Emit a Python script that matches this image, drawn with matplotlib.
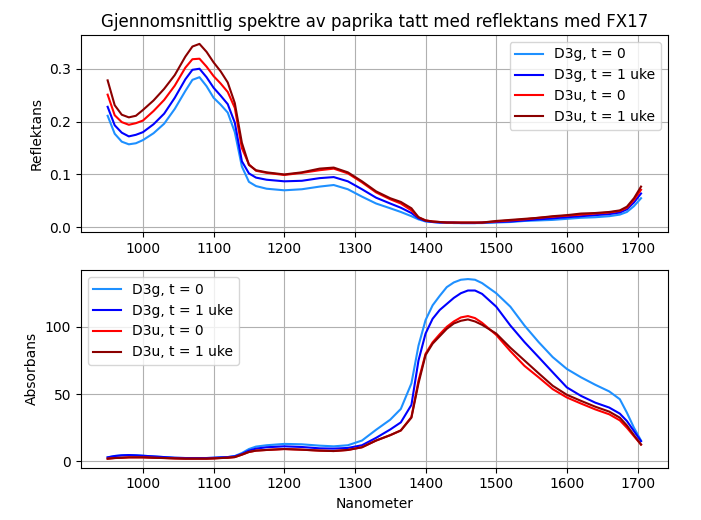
import numpy as np
import matplotlib
matplotlib.use('Agg')
import matplotlib.pyplot as plt

# wavelength grid (nm)
nm = [950, 960, 970, 980, 990, 1000, 1015, 1030, 1045, 1060, 1070, 1080, 1090,
      1100, 1110, 1120, 1130, 1140, 1150, 1160, 1175, 1200, 1225, 1250, 1270,
      1290, 1310, 1330, 1350, 1365, 1380, 1390, 1400, 1410, 1420, 1430, 1440,
      1450, 1460, 1470, 1480, 1500, 1520, 1540, 1560, 1580, 1600, 1620, 1640,
      1660, 1675, 1685, 1695, 1705]

labels = ['D3g, t = 0', 'D3g, t = 1 uke', 'D3u, t = 0', 'D3u, t = 1 uke']
colors = ['dodgerblue', 'blue', 'red', 'darkred']

# mean reflectance
refl_g0 = [0.211, 0.177, 0.162, 0.157, 0.159, 0.165, 0.178, 0.196, 0.224, 0.258,
           0.279, 0.284, 0.267, 0.245, 0.232, 0.217, 0.180, 0.115, 0.086, 0.078,
           0.073, 0.070, 0.072, 0.077, 0.080, 0.072, 0.058, 0.045, 0.036, 0.029,
           0.021, 0.015, 0.011, 0.010, 0.009, 0.009, 0.008, 0.008, 0.008, 0.008,
           0.008, 0.009, 0.010, 0.012, 0.013, 0.014, 0.016, 0.018, 0.019, 0.021,
           0.024, 0.029, 0.040, 0.055]
refl_g1 = [0.228, 0.193, 0.179, 0.172, 0.175, 0.180, 0.195, 0.215, 0.245, 0.280,
           0.298, 0.300, 0.284, 0.264, 0.249, 0.233, 0.198, 0.125, 0.102, 0.094,
           0.090, 0.087, 0.088, 0.093, 0.095, 0.087, 0.072, 0.056, 0.045, 0.037,
           0.027, 0.017, 0.012, 0.010, 0.009, 0.009, 0.009, 0.008, 0.008, 0.008,
           0.009, 0.010, 0.011, 0.013, 0.015, 0.017, 0.019, 0.021, 0.023, 0.025,
           0.028, 0.034, 0.047, 0.064]
refl_u0 = [0.251, 0.212, 0.199, 0.194, 0.197, 0.202, 0.220, 0.241, 0.268, 0.302,
           0.318, 0.319, 0.304, 0.286, 0.272, 0.256, 0.226, 0.150, 0.119, 0.107,
           0.103, 0.099, 0.103, 0.108, 0.111, 0.102, 0.085, 0.066, 0.053, 0.045,
           0.032, 0.019, 0.013, 0.011, 0.010, 0.009, 0.009, 0.009, 0.009, 0.009,
           0.009, 0.011, 0.013, 0.015, 0.018, 0.020, 0.022, 0.024, 0.026, 0.028,
           0.031, 0.037, 0.052, 0.071]
refl_u1 = [0.278, 0.231, 0.213, 0.208, 0.211, 0.222, 0.240, 0.262, 0.288, 0.323,
           0.342, 0.347, 0.332, 0.312, 0.295, 0.274, 0.235, 0.160, 0.118, 0.108,
           0.104, 0.100, 0.104, 0.111, 0.113, 0.104, 0.087, 0.068, 0.055, 0.048,
           0.036, 0.019, 0.013, 0.011, 0.010, 0.009, 0.009, 0.009, 0.009, 0.009,
           0.009, 0.012, 0.014, 0.016, 0.018, 0.021, 0.023, 0.026, 0.027, 0.029,
           0.032, 0.039, 0.055, 0.077]

# mean absorbance
abs_g0 = [3.0, 4.0, 4.5, 4.7, 4.5, 4.2, 3.7, 3.2, 2.7, 2.5, 2.5, 2.5, 2.5, 2.7,
          3.0, 3.2, 4.0, 6.2, 9.2, 11.0, 12.0, 13.0, 12.7, 11.7, 11.2, 12.0, 15.5,
          23.5, 31.0, 39.0, 58.0, 86.0, 105.0, 116.0, 123.0, 129.5, 133.0, 135.0,
          135.5, 135.0, 132.5, 125.0, 115.0, 101.0, 88.7, 77.5, 68.7, 62.5, 57.0,
          52.0, 46.2, 36.2, 25.0, 15.5]
abs_g1 = [3.0, 4.0, 4.5, 4.7, 4.5, 4.2, 3.7, 3.2, 2.7, 2.5, 2.5, 2.5, 2.5, 2.7,
          3.0, 3.2, 3.8, 5.5, 8.0, 9.5, 10.5, 11.2, 10.7, 9.7, 9.5, 10.0, 12.0,
          17.5, 23.7, 29.0, 42.0, 75.0, 95.0, 106.0, 112.5, 117.0, 121.5, 125.0,
          127.0, 127.0, 124.5, 115.0, 101.0, 88.7, 77.5, 66.2, 55.0, 48.7, 43.7,
          40.0, 35.5, 30.0, 22.5, 15.0]
abs_u0 = [2.0, 2.5, 2.7, 3.0, 3.0, 3.0, 2.7, 2.5, 2.2, 2.0, 2.0, 2.0, 2.0, 2.2,
          2.5, 2.7, 3.2, 5.0, 7.0, 8.0, 8.5, 9.2, 8.7, 8.0, 7.7, 8.5, 10.5, 15.5,
          19.5, 23.0, 33.0, 60.0, 80.0, 88.5, 94.5, 100.0, 104.0, 107.0, 108.0,
          106.5, 103.0, 94.0, 82.0, 71.0, 62.5, 53.7, 47.5, 43.0, 38.7, 35.0, 30.5,
          25.0, 18.7, 12.5]
abs_u1 = [2.0, 2.5, 2.7, 3.0, 3.0, 3.0, 2.7, 2.5, 2.2, 2.0, 2.0, 2.0, 2.0, 2.2,
          2.5, 2.7, 3.2, 5.0, 7.0, 8.0, 8.5, 9.2, 8.7, 8.0, 7.7, 8.5, 10.5, 15.5,
          19.5, 23.0, 32.5, 58.0, 79.0, 87.5, 93.0, 98.5, 102.5, 104.5, 105.5,
          104.0, 101.5, 95.0, 84.5, 75.0, 65.5, 56.2, 49.5, 45.0, 40.7, 37.0, 32.5,
          26.7, 19.5, 12.5]

refl = [refl_g0, refl_g1, refl_u0, refl_u1]
absb = [abs_g0, abs_g1, abs_u0, abs_u1]

fig = plt.figure(figsize=(7.01, 5.2), dpi=100)
ax1 = fig.add_axes([0.1155, 0.5538, 0.837, 0.379])
ax2 = fig.add_axes([0.1155, 0.1006, 0.837, 0.380])

for y, c, l in zip(refl, colors, labels):
    ax1.plot(nm, y, color=c, label=l)
ax1.set_title('Gjennomsnittlig spektre av paprika tatt med reflektans med FX17')
ax1.set_ylabel('Reflektans')
ax1.set_yticks([0.0, 0.1, 0.2, 0.3])
ax1.grid(True)
ax1.legend(loc='upper right')

for y, c, l in zip(absb, colors, labels):
    ax2.plot(nm, y, color=c, label=l)
ax2.set_ylabel('Absorbans')
ax2.set_xlabel('Nanometer')
ax2.set_yticks([0, 50, 100])
ax2.grid(True)
ax2.legend(loc='upper left')

fig.savefig('out.png', dpi=100)
